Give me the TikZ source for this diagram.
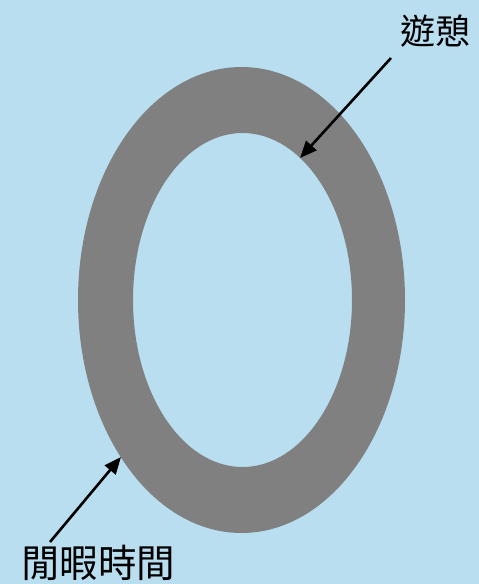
\documentclass[tikz,border=0pt]{standalone}
\usepackage{fontspec}
\newfontfamily\cjk{Noto Sans CJK TC}
\usetikzlibrary{arrows.meta, positioning}
\definecolor{SkyBack}{RGB}{185,222,240}
\definecolor{RingGray}{RGB}{128,128,128}

\begin{document}
\begin{tikzpicture}[
    x=1pt, y=-1pt,
    label/.style={font=\cjk\fontsize{#1}{#1}\selectfont, inner sep=0pt, text=black},
    label/.default=32,
    arr/.style={-{Triangle[length=17pt, width=14pt]}, line width=2.6pt, black}
]

% ===================================================================
% BACKGROUND
% ===================================================================
\fill[SkyBack] (0,0) rectangle (479,584);
\useasboundingbox (0,0) rectangle (479,584);

% ===================================================================
% RING
% ===================================================================
\fill[RingGray, even odd rule]
    (241.5,300) ellipse [x radius=163.5, y radius=233]
    (242.5,300) ellipse [x radius=109.5, y radius=167];

% ===================================================================
% LABELS
% ===================================================================
\node[label=35] (leisure) at (435,31) {遊憩};
\node[label=38.5] (freetime) at (98,563) {閒暇時間};

\coordinate (leisurefoot) at (391,58);
\coordinate (freefoot) at (50,542);
\coordinate (inner) at (300,158);
\coordinate (outer) at (121,457);

% ===================================================================
% ARROWS
% ===================================================================
\draw[arr] (leisurefoot) -- (inner);
\draw[arr] (freefoot) -- (outer);

\end{tikzpicture}
\end{document}
